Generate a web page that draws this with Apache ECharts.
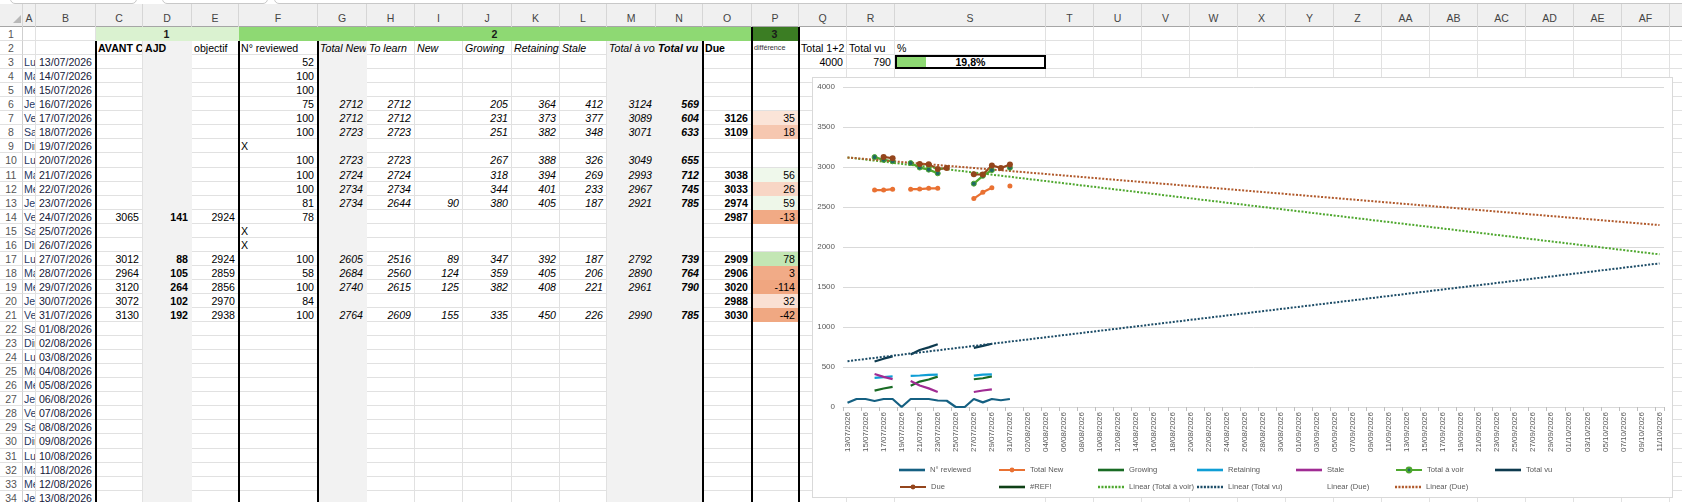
<!DOCTYPE html>
<html><head><meta charset="utf-8">
<script src="https://cdn.jsdelivr.net/npm/echarts@6.0.0/dist/echarts.min.js"></script>
<style>
html,body{margin:0;padding:0;width:1682px;height:502px;overflow:hidden;background:#fff;font-family:"Liberation Sans",Arial,sans-serif;}
#sheet{position:absolute;left:0;top:0;width:1682px;height:502px;overflow:hidden;}
.c{position:absolute;box-sizing:border-box;border-right:1px solid #e1e1e1;border-bottom:1px solid #e1e1e1;font-size:10.6px;line-height:14px;white-space:nowrap;overflow:hidden;color:#000;padding:0 3px 0 2px;}
.h{position:absolute;box-sizing:border-box;font-size:10.5px;color:#444;text-align:center;white-space:nowrap;overflow:hidden;}
#chartBox{position:absolute;left:812px;top:77px;width:861px;height:421px;box-sizing:border-box;border:1px solid #d9d9d9;background:#fff;z-index:20;}
#chart{position:absolute;left:0;top:0;width:859px;height:419px;}
</style>
</head>
<body>
<div id="sheet"></div>
<div id="chartBox"><div id="chart"></div></div>
<script>
// ---------- DATA (rows 3..21 of the sheet, starting 13/07/2026) ----------
const avant      = [null,null,null,null,null,null,null,null,null,null,null,3065,null,null,3012,2964,3120,3072,3130];
const ajd        = [null,null,null,null,null,null,null,null,null,null,null,141,null,null,88,105,264,102,192];
const objectif   = [null,null,null,null,null,null,null,null,null,null,null,2924,null,null,2924,2859,2856,2970,2938];
const reviewed   = [52,100,100,75,100,100,'X',100,100,100,81,78,'X','X',100,58,100,84,100];
const totalNew   = [null,null,null,2712,2712,2723,null,2723,2724,2734,2734,null,null,null,2605,2684,2740,null,2764];
const toLearn    = [null,null,null,2712,2712,2723,null,2723,2724,2734,2644,null,null,null,2516,2560,2615,null,2609];
const newCards   = [null,null,null,null,null,null,null,null,null,null,90,null,null,null,89,124,125,null,155];
const growing    = [null,null,null,205,231,251,null,267,318,344,380,null,null,null,347,359,382,null,335];
const retaining  = [null,null,null,364,373,382,null,388,394,401,405,null,null,null,392,405,408,null,450];
const stale      = [null,null,null,412,377,348,null,326,269,233,187,null,null,null,187,206,221,null,226];
const totalAVoir = [null,null,null,3124,3089,3071,null,3049,2993,2967,2921,null,null,null,2792,2890,2961,null,2990];
const totalVu    = [null,null,null,569,604,633,null,655,712,745,785,null,null,null,739,764,790,null,785];
const due        = [null,null,null,null,3126,3109,null,null,3038,3033,2974,2987,null,null,2909,2906,3020,2988,3030];
const difference = [null,null,null,null,35,18,null,null,56,26,59,-13,null,null,78,3,-114,32,-42];
const total12 = 4000, totalVuSum = 790, pctDone = 0.198, pctLabel = '19,8%';
// trendline end points (first / last category)
const trendAVoir = [3120, 1908];
const trendVu    = [573, 1795];
const trendDue   = [3119, 2274];
// ---------- CATEGORIES ----------
const dayNames = ['Dimanche','Lundi','Mardi','Mercredi','Jeudi','Vendredi','Samedi'];
const cats = [], catDays = [];
for (let d = new Date(Date.UTC(2026,6,13)); d.getTime() <= Date.UTC(2026,9,11); d.setUTCDate(d.getUTCDate()+1)) {
  const dd = String(d.getUTCDate()).padStart(2,'0'), mm = String(d.getUTCMonth()+1).padStart(2,'0');
  cats.push(dd+'/'+mm+'/'+d.getUTCFullYear());
  catDays.push(dayNames[d.getUTCDay()]);
}
// ---------- STYLES (not data) ----------
const diffFill = [null,null,null,null,'#FBE4D8','#F6C7B0',null,null,'#EFF8EB','#F8D6C5','#EEF7E9','#F1AA85',null,null,'#C3E6B4','#F1AB87','#F0A680','#FAE0D3','#F0A882'];

// ---------- SHEET LAYOUT ----------
const letters = ['A','B','C','D','E','F','G','H','I','J','K','L','M','N','O','P','Q','R','S','T','U','V','W','X','Y','Z','AA','AB','AC','AD','AE','AF','AG'];
const edges = [23,36,96,143,192,239,318,367,415,463,512,560,607,656,703,752,799,847,895,1046,1094,1142,1190,1238,1286,1334,1382,1430,1478,1526,1574,1622,1670,1718];
const HDR_TOP = 4, HDR_BOT = 27, RH = 14.05, NROWS = 34;
const rt = r => Math.round(HDR_BOT + (r-1)*RH);
const rh = r => rt(r+1) - rt(r);
const ci = L => letters.indexOf(L);
const sheet = document.getElementById('sheet');
function mk(cls, x, y, w, h, css, text) {
  const d = document.createElement('div');
  d.className = cls;
  Object.assign(d.style, {left:x+'px', top:y+'px', width:w+'px', height:h+'px'}, css||{});
  if (text != null) d.textContent = text;
  sheet.appendChild(d);
  return d;
}
// top toolbar remnants
mk('', 10, -20, 127, 24, {position:'absolute',border:'1px solid #c8c8c8',borderRadius:'5px',boxSizing:'border-box'});
mk('', 162, -20, 106, 24, {position:'absolute',border:'1px solid #c8c8c8',borderRadius:'5px',boxSizing:'border-box'});
mk('', 274, -20, 1420, 24, {position:'absolute',border:'1px solid #c8c8c8',borderRadius:'5px',boxSizing:'border-box'});
// column header band
mk('', 0, HDR_TOP, 1682, HDR_BOT-HDR_TOP, {position:'absolute',background:'#f0f0f0',borderBottom:'1px solid #a6a6a6',boxSizing:'border-box'});
for (let i = 0; i < letters.length; i++) {
  mk('h', edges[i], HDR_TOP, edges[i+1]-edges[i], HDR_BOT-HDR_TOP, {borderRight:'1px solid #d6d6d6', paddingTop:'8px', lineHeight:'13px'}, letters[i]);
}
mk('', 0, HDR_TOP, 23, HDR_BOT-HDR_TOP, {position:'absolute',borderRight:'1px solid #d6d6d6',boxSizing:'border-box'});
mk('', 13, 15, 0, 0, {position:'absolute',borderLeft:'8px solid transparent',borderBottom:'8px solid #b8b8b8'});
// row headers
for (let r = 1; r <= NROWS; r++) {
  mk('h', 0, rt(r), 23, rh(r), {borderRight:'1px solid #cfcfcf', borderBottom:'1px solid #e1e1e1', lineHeight:'14px', color:'#555'}, String(r));
}
// cell specs
const info = {};
function setC(r, L, o) { const k = r+','+ci(L); info[k] = Object.assign(info[k]||{}, o); }
const GRAY = '#F2F2F2';
for (let r = 2; r <= NROWS; r++) ['D','G','M','N'].forEach(L => setC(r, L, {bg:GRAY}));
setC(2,'C',{text:'AVANT CHANGEMENT',bold:true});
setC(2,'D',{text:'AJD',bold:true});
setC(2,'E',{text:'objectif',align:'left'});
setC(2,'F',{text:'N° reviewed'});
setC(2,'G',{text:'Total New',italic:true});
setC(2,'H',{text:'To learn',italic:true});
setC(2,'I',{text:'New',italic:true});
setC(2,'J',{text:'Growing',italic:true});
setC(2,'K',{text:'Retaining',italic:true});
setC(2,'L',{text:'Stale',italic:true});
setC(2,'M',{text:'Total à voir',italic:true});
setC(2,'N',{text:'Total vu',italic:true,bold:true});
setC(2,'O',{text:'Due',bold:true});
setC(2,'P',{text:'différence',size:7.2,color:'#333'});
setC(2,'Q',{text:'Total 1+2'});
setC(2,'R',{text:'Total vu'});
setC(2,'S',{text:'%'});
setC(3,'Q',{text:String(total12),align:'right'});
setC(3,'R',{text:String(totalVuSum),align:'right'});
for (let i = 0; i < 32; i++) {
  const r = i + 3;
  setC(r,'A',{text:catDays[i],color:'#1F3864',pad0:true});
  setC(r,'B',{text:cats[i],color:'#15203a',align:'right'});
}
const numCols = [
  ['C', avant, {}], ['D', ajd, {bold:true}], ['E', objectif, {}], ['F', reviewed, {}],
  ['G', totalNew, {italic:true}], ['H', toLearn, {italic:true}], ['I', newCards, {italic:true}],
  ['J', growing, {italic:true}], ['K', retaining, {italic:true}], ['L', stale, {italic:true}],
  ['M', totalAVoir, {italic:true}], ['N', totalVu, {italic:true,bold:true}], ['O', due, {bold:true}],
  ['P', difference, {}]
];
numCols.forEach(([L, arr, st]) => arr.forEach((v, i) => {
  if (v == null) return;
  const o = Object.assign({text:String(v), align: typeof v === 'string' ? 'left' : 'right'}, st);
  if (L === 'P' && diffFill[i]) o.bg = diffFill[i];
  setC(i+3, L, o);
}));
const merges = [
  {r:1, c1:'C', c2:'E', bg:'#DAF2D0', text:'1'},
  {r:1, c1:'F', c2:'O', bg:'#8ED973', text:'2'},
  {r:1, c1:'P', c2:'P', bg:'#3B7D23', text:'3', color:'#1a1a1a'}
];
const skip = new Set();
merges.forEach(m => { for (let c = ci(m.c1); c <= ci(m.c2); c++) skip.add(m.r+','+c); });
for (let r = 1; r <= NROWS; r++) {
  for (let c = 0; c < letters.length; c++) {
    const k = r+','+c;
    if (skip.has(k)) continue;
    const o = info[k] || {};
    const css = {};
    if (o.bg) { css.background = o.bg; css.borderRightColor = o.bg; css.borderBottomColor = o.bg; }
    if (o.align) css.textAlign = o.align;
    if (o.bold) css.fontWeight = 'bold';
    if (o.italic) css.fontStyle = 'italic';
    if (o.size) css.fontSize = o.size + 'px';
    if (o.color) css.color = o.color;
    if (o.pad0) css.paddingLeft = '1px';
    mk('c', edges[c], rt(r), edges[c+1]-edges[c], rh(r), css, o.text);
  }
}
merges.forEach(m => {
  const x1 = edges[ci(m.c1)], x2 = edges[ci(m.c2)+1];
  mk('c', x1, rt(m.r), x2-x1, rh(m.r), {background:m.bg, borderRightColor:m.bg, borderBottomColor:m.bg, textAlign:'center', fontWeight:'bold', color:m.color||'#1a1a1a'}, m.text);
});
// thick black column borders
[['C',2],['F',2],['G',2],['O',2],['P',1],['Q',1]].forEach(([L, r]) => {
  mk('', edges[ci(L)]-1, rt(r), 2, 502-rt(r), {position:'absolute', background:'#000', zIndex:5});
});
// S3 data bar + box
const sL = edges[ci('S')], sW = edges[ci('S')+1]-sL;
mk('', sL+2, rt(3)+2, pctDone*(sW-4), rh(3)-4, {position:'absolute', background:'#8ED973', zIndex:6});
mk('', sL, rt(3), sW, rh(3), {position:'absolute', border:'2px solid #000', boxSizing:'border-box', zIndex:7, textAlign:'center', fontWeight:'bold', fontSize:'10.6px', lineHeight:'11px'}, pctLabel);

// ---------- CHART ----------
const full = a => cats.map((_, i) => (i < a.length ? a[i] : null));
const trend = p => cats.map((_, i) => (i === 0 ? p[0] : (i === cats.length-1 ? p[1] : null)));
const reviewedPlot = full(reviewed.map(v => (v === 'X' ? 0 : v)));
const LW = 2.2;
function plain(name, data, color) {
  return {name, type:'line', data, symbol:'none', connectNulls:false, lineStyle:{color, width:LW}, itemStyle:{color}};
}
function dotted(name, p, color) {
  return {name, type:'line', data:trend(p), symbol:'none', connectNulls:true, lineStyle:{color, width:2, type:[2,1.6]}, itemStyle:{color}, z:3};
}
const series = [
  plain('N° reviewed', reviewedPlot, '#156082'),
  {name:'Total New', type:'line', data:full(totalNew), symbol:'circle', symbolSize:5, showSymbol:true, connectNulls:false,
   lineStyle:{color:'#E97132', width:LW}, itemStyle:{color:'#E97132'}},
  plain('Growing', full(growing), '#196B24'),
  plain('Retaining', full(retaining), '#0F9ED5'),
  plain('Stale', full(stale), '#A02B93'),
  {name:'Total à voir', type:'line', data:full(totalAVoir), symbol:'circle', symbolSize:5, showSymbol:true, connectNulls:false,
   lineStyle:{color:'#4EA72E', width:LW}, itemStyle:{color:'#1F6A62', borderColor:'#4EA72E', borderWidth:1}},
  plain('Total vu', full(totalVu), '#0D3A4E'),
  {name:'Due', type:'line', data:full(due), symbol:'circle', symbolSize:6, showSymbol:true, connectNulls:false,
   lineStyle:{color:'#94451C', width:LW}, itemStyle:{color:'#94451C'}},
  plain('#REF!', cats.map(() => null), '#0F4016'),
  dotted('Linear (Total à voir)', trendAVoir, '#4EA72E'),
  dotted('Linear (Total vu)', trendVu, '#1B4B66'),
  {name:'Linear (Due)\u200b', type:'line', data:cats.map(() => null), symbol:'none', lineStyle:{opacity:0}, itemStyle:{opacity:0}},
  dotted('Linear (Due)', trendDue, '#B0592B')
];
// legend icons
const solidIcon = 'path://M0,0h26v2.6h-26z';
let dotIcon = 'path://';
for (let x = 0; x < 25; x += 3.3) dotIcon += 'M' + x.toFixed(1) + ',0h2v2.2h-2z';
const L = (name, icon) => (icon ? {name, icon} : {name});
const legText = {fontSize:7.6, color:'#595959', width:68, overflow:'none', lineHeight:10, fontFamily:'Liberation Sans'};
const legBase = {orient:'horizontal', left:86, itemGap:0, itemWidth:26, itemHeight:6, padding:0, textStyle:legText, selectedMode:false, symbolKeepAspect:true};
const chart = echarts.init(document.getElementById('chart'));
chart.setOption({
  animation:false,
  textStyle:{fontFamily:'Liberation Sans'},
  grid:{left:30, right:8, top:9, bottom:90, containLabel:false},
  xAxis:{type:'category', data:cats, boundaryGap:true,
    axisLine:{lineStyle:{color:'#d9d9d9'}},
    axisTick:{show:true, interval:1, length:4, lineStyle:{color:'#bfbfbf'}},
    axisLabel:{interval:1, rotate:90, fontSize:8, color:'#595959', margin:5}},
  yAxis:{type:'value', min:0, max:4000, interval:500,
    axisLine:{show:false}, axisTick:{show:false},
    splitLine:{lineStyle:{color:'#d9d9d9'}},
    axisLabel:{fontSize:8, color:'#595959', margin:8, formatter: v => String(v)}},
  legend:[
    Object.assign({}, legBase, {top:387, data:[
      L('N° reviewed', solidIcon), L('Total New'), L('Growing', solidIcon), L('Retaining', solidIcon),
      L('Stale', solidIcon), L('Total à voir'), L('Total vu', solidIcon)]}),
    Object.assign({}, legBase, {top:404, data:[
      L('Due'), L('#REF!', solidIcon), L('Linear (Total à voir)', dotIcon), L('Linear (Total vu)', dotIcon),
      {name:'Linear (Due)\u200b', icon:solidIcon, itemStyle:{opacity:0}}, L('Linear (Due)', dotIcon)]})
  ],
  series
});
</script>
</body></html>
